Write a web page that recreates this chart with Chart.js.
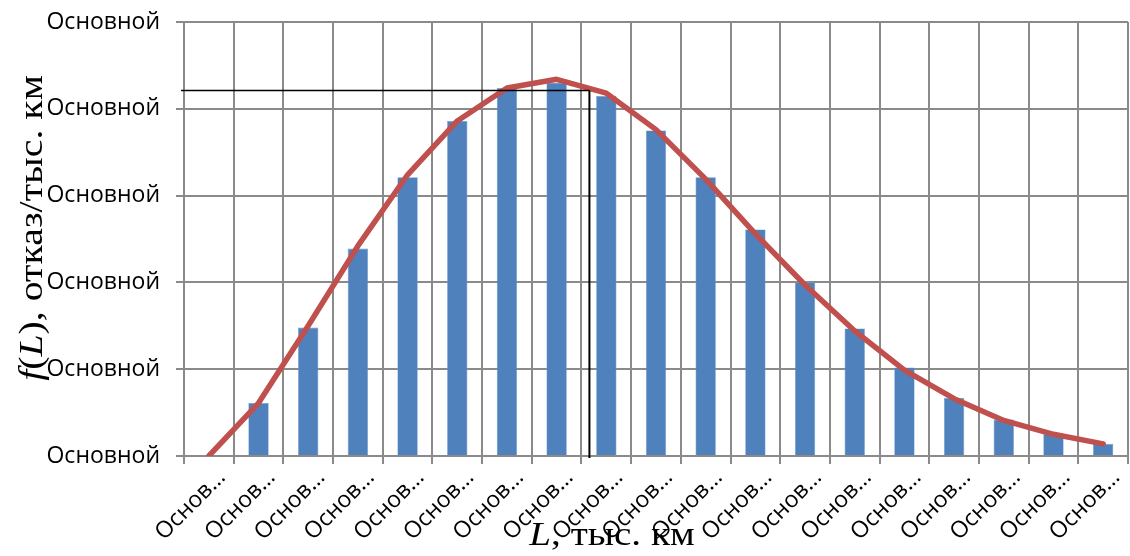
<!DOCTYPE html>
<html>
<head>
<meta charset="utf-8">
<script src="https://cdn.jsdelivr.net/npm/chart.js@4/dist/chart.umd.min.js"></script>
<style>
  html, body { margin: 0; padding: 0; background: #ffffff; }
  #wrap { width: 1130px; height: 556px; }
</style>
</head>
<body>
<div id="wrap"><canvas id="chart" width="1130" height="556"></canvas></div>
<script>
// Mileage intervals (category labels as shown on the axis)
const categories = [
  'Основ…', 'Основ…', 'Основ…', 'Основ…', 'Основ…', 'Основ…', 'Основ…',
  'Основ…', 'Основ…', 'Основ…', 'Основ…', 'Основ…', 'Основ…', 'Основ…',
  'Основ…', 'Основ…', 'Основ…', 'Основ…', 'Основ…'
];

// Empirical failure density per interval (histogram bars)
const barValues = [null, 0.61, 1.48, 2.39, 3.21, 3.86, 4.24, 4.30, 4.15, 3.75,
                   3.21, 2.61, 2.00, 1.47, 1.02, 0.67, 0.42, 0.25, 0.14];

// Fitted density curve f(L)
const curveValues = [0, 0.61, 1.50, 2.42, 3.24, 3.86, 4.24, 4.34, 4.18, 3.76,
                     3.19, 2.56, 1.97, 1.44, 0.99, 0.66, 0.41, 0.25, 0.14];

// Value-axis tick labels (bottom to top)
const yTickLabels = ['Основной', 'Основной', 'Основной', 'Основной', 'Основной', 'Основной'];

// Reference point marked with black guide lines: position on the L axis, level of f(L)
const markerL = [7.66];
const markerF = [4.21];

const GRID = '#8a8a8a';
const SANS = '"Open Sans", "Noto Sans", sans-serif';
const SERIF = '"Liberation Serif", "DejaVu Serif", serif';

// Draws a line of text made of upright and italic pieces, centred on the origin
function drawRuns(ctx, runs, size) {
  let total = 0;
  runs.forEach(r => {
    ctx.font = (r.italic ? 'italic ' : '') + size + 'px ' + SERIF;
    r.w = ctx.measureText(r.text).width;
    total += r.w;
  });
  let x = -total / 2;
  runs.forEach(r => {
    ctx.font = (r.italic ? 'italic ' : '') + size + 'px ' + SERIF;
    ctx.fillText(r.text, x, 0);
    x += r.w;
  });
}

const decorations = {
  id: 'decorations',
  afterDatasetsDraw(chart) {
    const { ctx, scales: { x, y }, chartArea } = chart;
    const px = x.getPixelForValue(markerL[0]);
    const py = y.getPixelForValue(markerF[0]);
    ctx.save();
    ctx.strokeStyle = '#000000';
    ctx.lineWidth = 1.6;
    ctx.beginPath();
    ctx.moveTo(chartArea.left - 3, py);
    ctx.lineTo(px, py);
    ctx.stroke();
    ctx.lineWidth = 2;
    ctx.beginPath();
    ctx.moveTo(px, py);
    ctx.lineTo(px, chartArea.bottom + 2);
    ctx.stroke();
    ctx.restore();
  },
  afterDraw(chart) {
    const { ctx, chartArea } = chart;
    const size = 34;
    ctx.save();
    ctx.fillStyle = '#000000';
    ctx.textBaseline = 'alphabetic';
    ctx.textAlign = 'left';
    // value-axis title
    ctx.save();
    ctx.translate(42, (chartArea.top + chartArea.bottom) / 2 - 11);
    ctx.rotate(-Math.PI / 2);
    ctx.scale(1.17, 1);
    drawRuns(ctx, [
      { text: 'f', italic: true },
      { text: '(' },
      { text: 'L', italic: true },
      { text: '), отказ/тыс. км' }
    ], size);
    ctx.restore();
    // category-axis title
    ctx.save();
    ctx.translate((chartArea.left + chartArea.right) / 2 - 44, 545);
    ctx.scale(1.15, 1);
    drawRuns(ctx, [
      { text: 'L', italic: true },
      { text: ', тыс. км' }
    ], size);
    ctx.restore();
    ctx.restore();
  }
};

new Chart(document.getElementById('chart'), {
  data: {
    labels: categories,
    datasets: [
      {
        type: 'line',
        data: curveValues,
        borderColor: '#C0504D',
        borderWidth: 5.5,
        pointRadius: 0,
        tension: 0,
        borderCapStyle: 'round',
        borderJoinStyle: 'round',
        order: 0
      },
      {
        type: 'bar',
        data: barValues,
        backgroundColor: '#4F81BD',
        borderColor: '#6f9bd0',
        borderWidth: 0.6,
        barPercentage: 0.41,
        categoryPercentage: 1.0,
        order: 1
      }
    ]
  },
  options: {
    responsive: false,
    animation: false,
    devicePixelRatio: 1,
    layout: { padding: { left: 0, right: 2, top: 22, bottom: 0 } },
    plugins: {
      legend: { display: false },
      tooltip: { enabled: false }
    },
    scales: {
      x: {
        offset: true,
        grid: { color: GRID, lineWidth: 2, offset: true, tickLength: 8, drawTicks: true },
        border: { color: GRID, width: 2 },
        ticks: {
          autoSkip: false,
          maxRotation: 45,
          minRotation: 45,
          labelOffset: 13,
          padding: 0,
          color: '#000000',
          font: { family: SANS, size: 23 }
        },
        afterFit(scale) {
          scale.height = 100;
          scale.paddingLeft = 0;
          scale.paddingRight = 0;
        }
      },
      y: {
        min: 0,
        max: 5,
        grid: { color: GRID, lineWidth: 2, tickLength: 8 },
        border: { color: GRID, width: 2 },
        ticks: {
          stepSize: 1,
          padding: 16,
          color: '#000000',
          font: { family: SANS, size: 23 },
          callback: (v, i) => yTickLabels[i]
        },
        afterFit(scale) {
          scale.width = 184;
          scale.paddingTop = 0;
          scale.paddingBottom = 0;
        }
      }
    }
  },
  plugins: [decorations]
});
</script>
</body>
</html>
